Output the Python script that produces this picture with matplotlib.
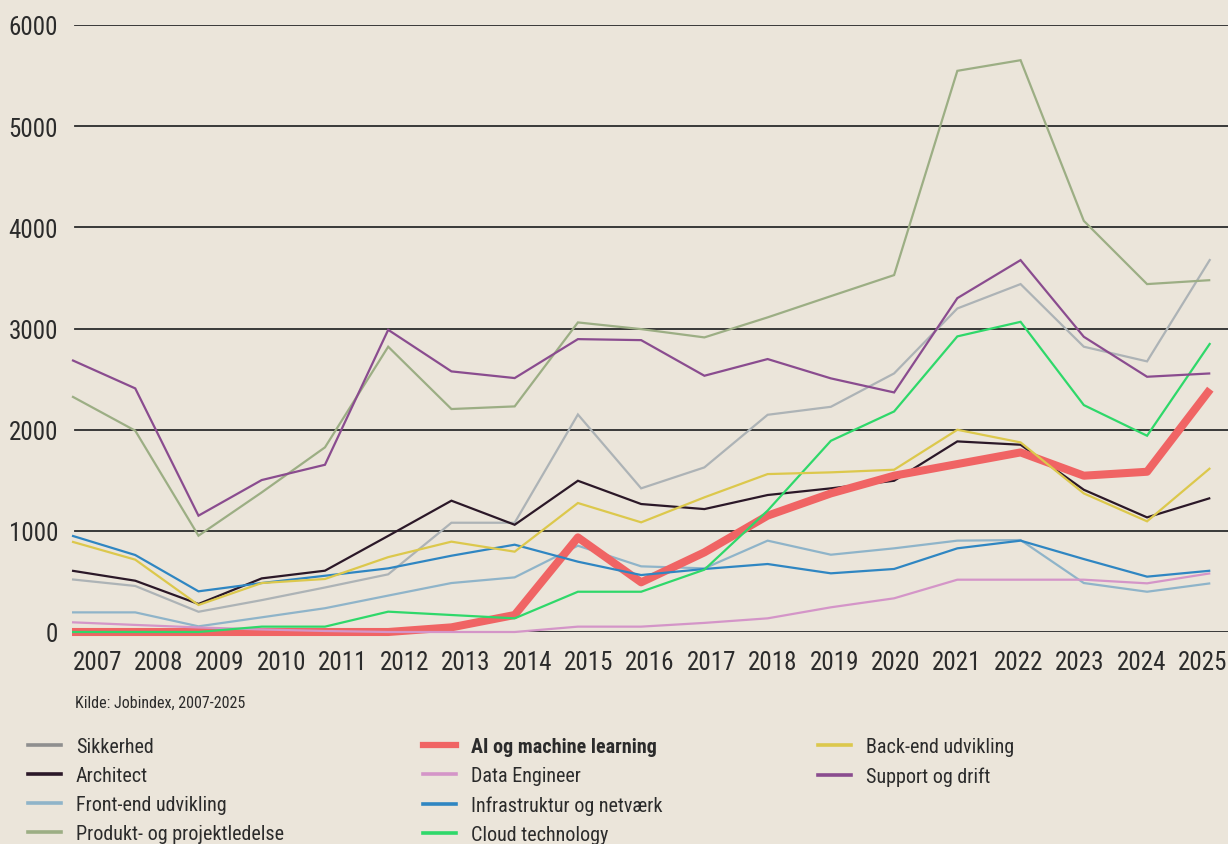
import numpy as np
import matplotlib
matplotlib.use("Agg")
import matplotlib.pyplot as plt
from matplotlib.lines import Line2D
from matplotlib import font_manager as fm

years = [str(y) for y in range(2007, 2026)]

sikkerhed = [520, 455, 200, 315, 440, 570, 1080, 1080, 2150, 1420, 1627, 2147, 2226, 2556, 3198, 3439, 2820, 2675, 3686]
architect = [606, 507, 277, 530, 606, 950, 1298, 1060, 1495, 1265, 1215, 1354, 1420, 1495, 1884, 1851, 1406, 1133, 1324]
frontend = [194, 194, 56, 145, 235, 360, 484, 540, 853, 649, 629, 903, 764, 827, 903, 909, 484, 398, 481]
produkt = [2329, 1990, 952, 1380, 1825, 2820, 2204, 2230, 3060, 2994, 2912, 3110, 3320, 3528, 5547, 5652, 4064, 3439, 3478]
ai_ml = [0, 0, 0, 0, 0, 0, 46, 168, 935, 491, 787, 1150, 1370, 1545, 1660, 1775, 1545, 1584, 2400]
data_eng = [96, 70, 45, 25, 10, 0, 0, 0, 53, 53, 90, 135, 244, 333, 517, 517, 517, 481, 580]
infra = [952, 761, 402, 484, 556, 629, 754, 863, 695, 563, 623, 672, 580, 623, 827, 903, 721, 547, 606]
cloud = [0, 0, 0, 53, 53, 201, 168, 135, 398, 398, 616, 1200, 1890, 2180, 2922, 3066, 2243, 1940, 2856]
backend = [893, 715, 267, 484, 524, 740, 893, 794, 1275, 1084, 1331, 1561, 1578, 1604, 1999, 1874, 1370, 1094, 1621]
support = [2688, 2408, 1150, 1502, 1653, 2987, 2576, 2510, 2895, 2885, 2533, 2698, 2507, 2368, 3300, 3676, 2918, 2523, 2556]

series = [
    ("Sikkerhed", sikkerhed, "#adb3b6", 1.6),
    ("Architect", architect, "#2b1828", 1.6),
    ("Front-end udvikling", frontend, "#8fb4c9", 1.6),
    ("Produkt- og projektledelse", produkt, "#9cae84", 1.6),
    ("AI og machine learning", ai_ml, "#f06464", 5.8),
    ("Data Engineer", data_eng, "#d495c8", 1.6),
    ("Infrastruktur og netværk", infra, "#2f86c2", 1.6),
    ("Cloud technology", cloud, "#2fd86a", 1.6),
    ("Back-end udvikling", backend, "#dcc84c", 1.6),
    ("Support og drift", support, "#8a4c8f", 1.6),
]
legend_colors = {"Sikkerhed": "#8f8f8f"}

# pick a condensed font if one is installed
entries = fm.fontManager.ttflist
names_avail = {f.name for f in entries}
family = 'DejaVu Sans'
for cand in ['Roboto Condensed', 'Liberation Sans Narrow', 'Open Sans Condensed']:
    if cand in names_avail:
        family = cand
        break
plt.rcParams['font.family'] = [family, 'DejaVu Sans']

bg = "#ebe5da"
txt = "#2b2b2b"

fig = plt.figure(figsize=(12.28, 8.45), dpi=100, facecolor=bg)
ax = fig.add_axes([72/1228, 1-633/845, 1-72/1228, (633-26)/845])
ax.set_facecolor(bg)

x = np.arange(len(years))
handles = []
for name, vals, col, lw in series:
    ax.plot(x, vals, color=col, lw=lw, solid_joinstyle='miter' if lw < 3 else 'round',
            solid_capstyle='butt', clip_on=False, zorder=3)
    handles.append(Line2D([0], [0], color=legend_colors.get(name, col), lw=4.5 if lw > 3 else 2.6))

ax.set_xlim(0, 18.28)
ax.set_ylim(0, 6000)
ax.set_yticks(np.arange(0, 6001, 1000))
ax.set_yticklabels([str(v) for v in range(0, 6001, 1000)], fontsize=18, color=txt)
ax.set_xticks(0.4 + np.arange(len(years)) * 0.971)
ax.set_xticklabels(years, fontsize=18, color=txt)
ax.tick_params(axis='both', length=0)
ax.tick_params(axis='y', pad=10)
ax.tick_params(axis='x', pad=13)
for s in ax.spines.values():
    s.set_visible(False)
for v in range(0, 6001, 1000):
    ax.axhline(v, xmin=3/1156, xmax=1, color="#2b2b2b", lw=1.3, zorder=1)

fig.text(75/1228, 1-703/845, "Kilde: Jobindex, 2007-2025", fontsize=11.5, color=txt, va='center', ha='left')

names = [s[0] for s in series]
groups = [[0, 1, 2, 3], [4, 5, 6, 7], [8, 9]]
xs = [28/1228, 423/1228, 818/1228]
for g, xx in zip(groups, xs):
    leg = fig.legend([handles[i] for i in g], [names[i] for i in g], loc='upper left',
                     bbox_to_anchor=(xx, 1-738/845), frameon=False, fontsize=14.5,
                     handlelength=1.65, handletextpad=0.72, labelspacing=0.5,
                     borderpad=0, borderaxespad=0)
    for t in leg.get_texts():
        t.set_color(txt)
        if t.get_text().startswith("AI"):
            t.set_fontweight('semibold')

fig.savefig("out.png", dpi=100, facecolor=bg)
